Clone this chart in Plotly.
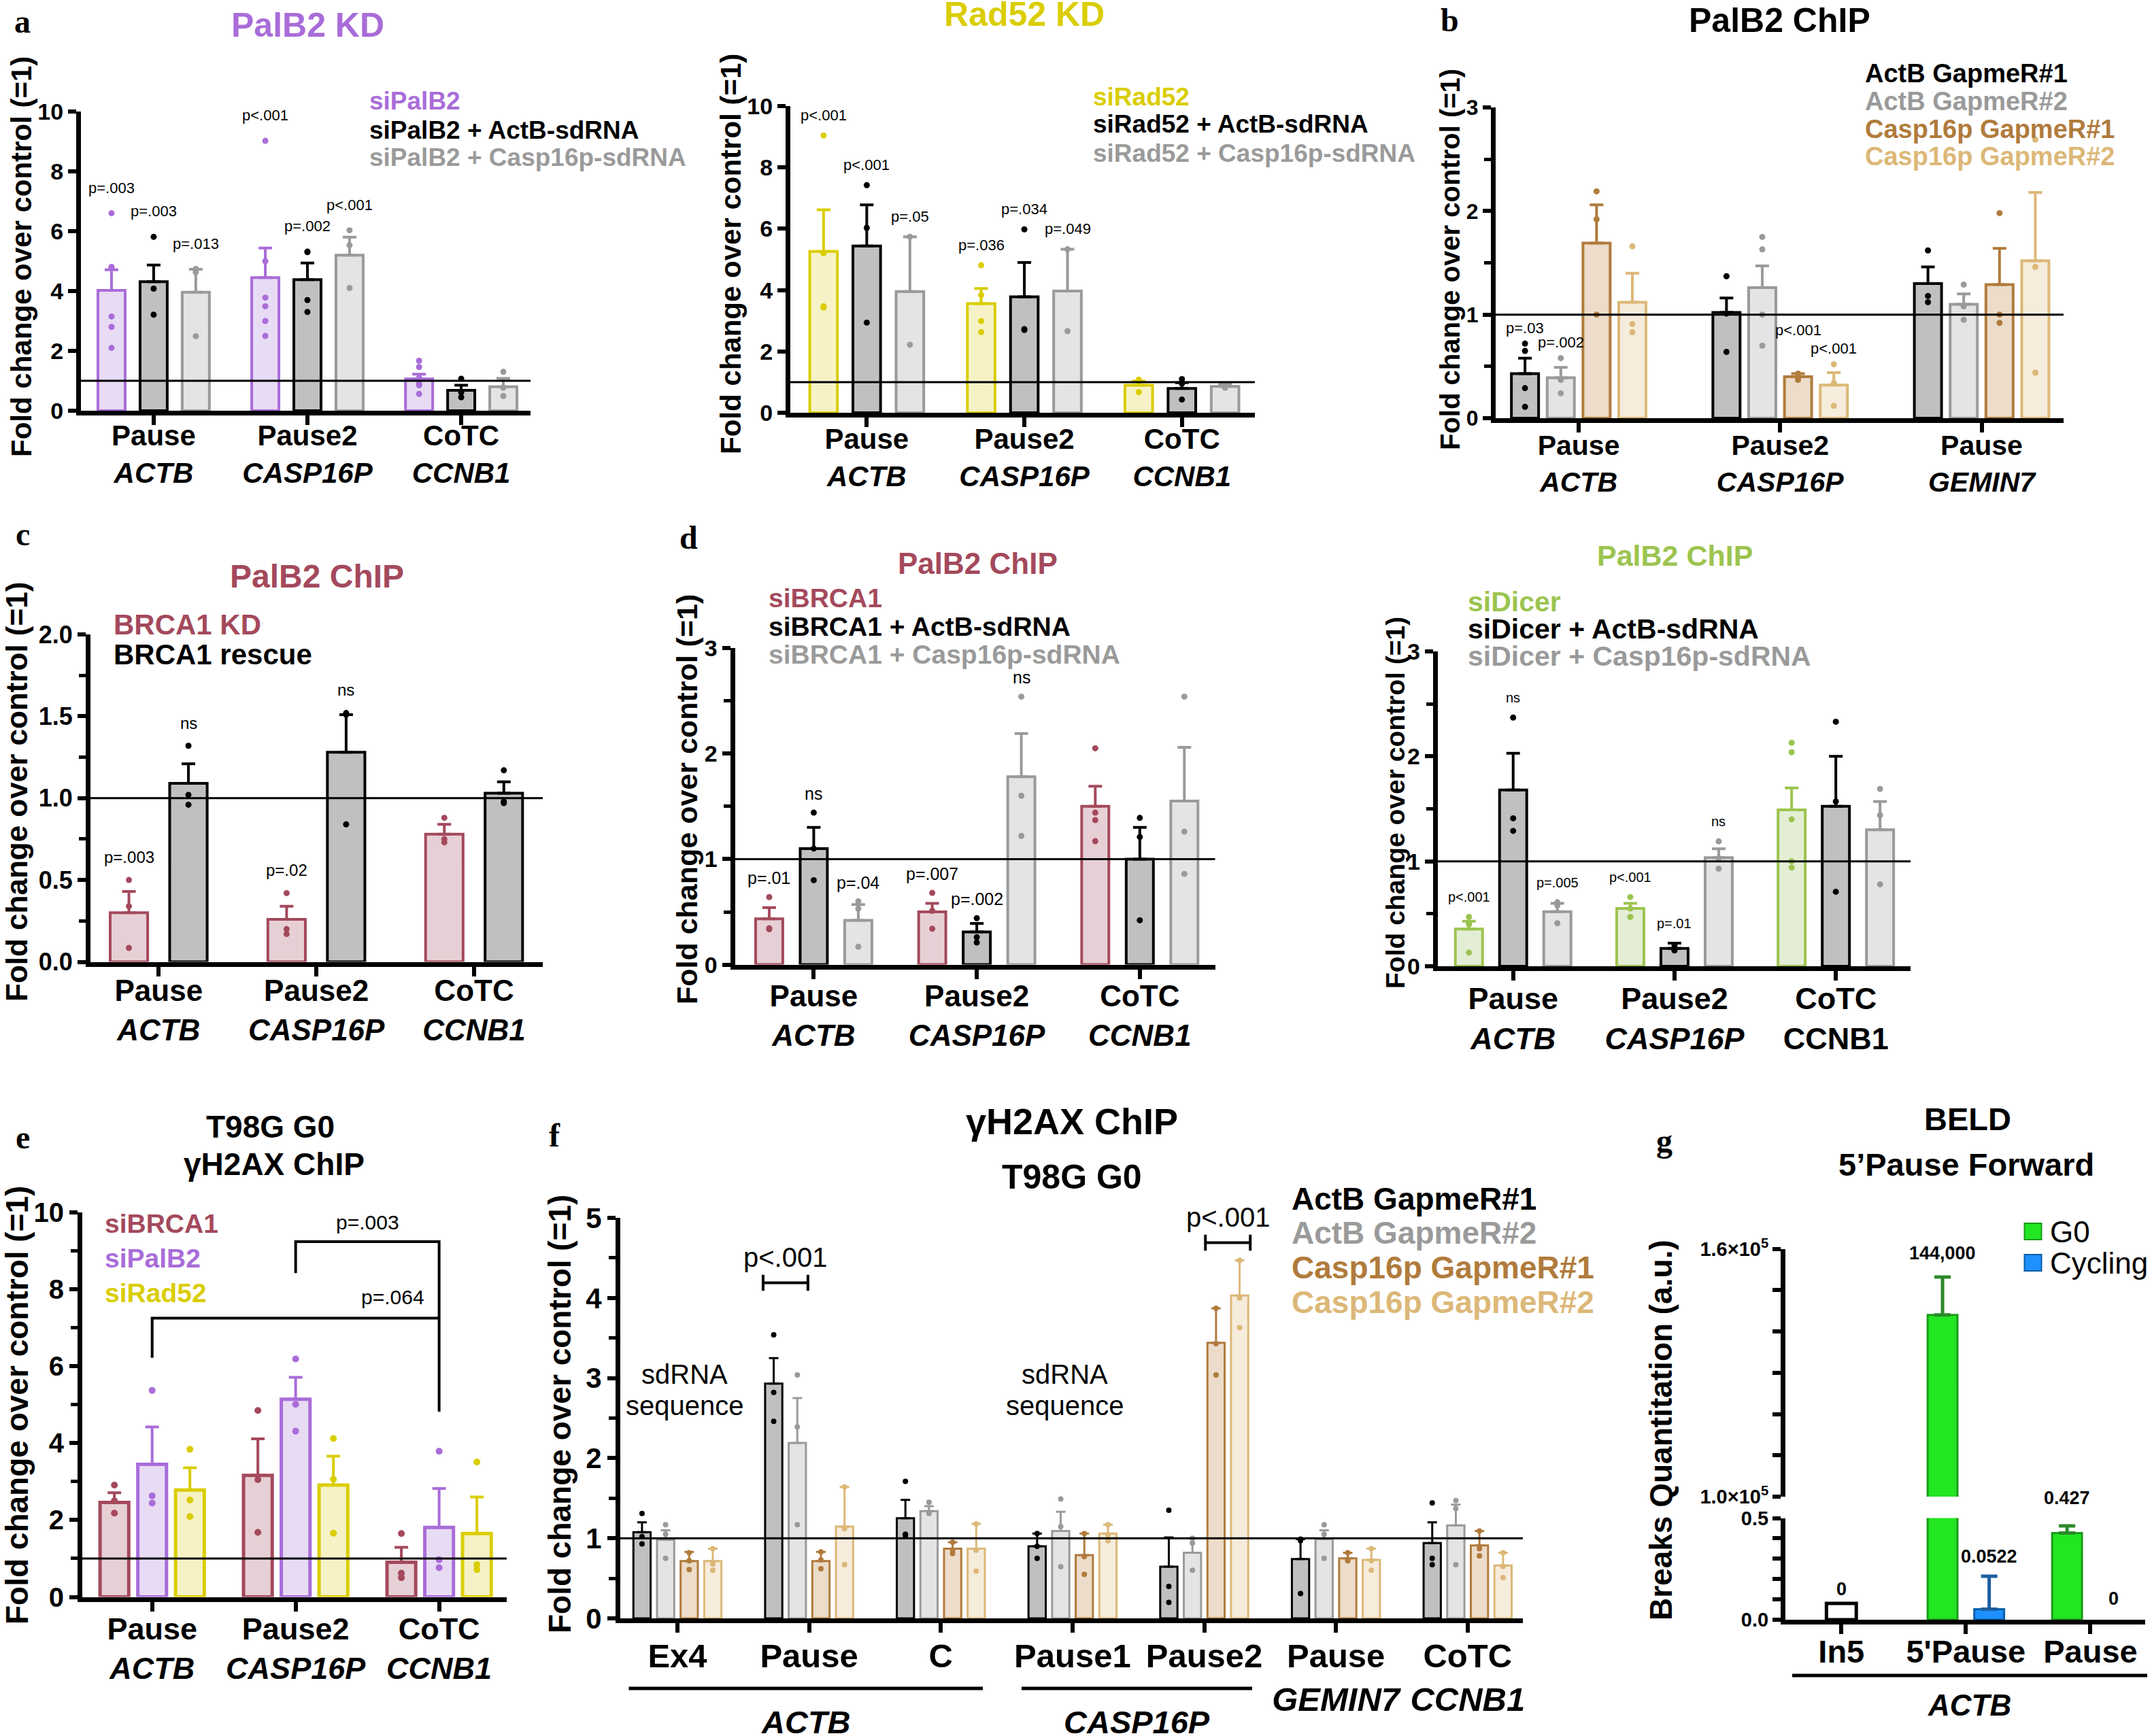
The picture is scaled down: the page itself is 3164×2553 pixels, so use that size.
import plotly.graph_objects as go

# ====================== DATA ======================
GROUPS3 = ["Pause", "Pause2", "CoTC"]
GENES3 = ["ACTB", "CASP16P", "CCNB1"]
GENES_B = ["ACTB", "CASP16P", "GEMIN7"]
GROUPS_B = ["Pause", "Pause2", "Pause"]

# a (left): PalB2 KD
A_SIPALB2_MEAN = [4.02, 4.45, 1.06]
A_SIPALB2_TOP = [4.71, 5.44, 1.22]
A_SIPALB2_PTS = [[6.60, 4.80, 4.80, 3.15, 2.80, 2.10], [9.02, 5.00, 3.78, 3.49, 3.00, 2.50], [1.67, 1.46, 1.10, 0.90, 0.85, 0.56]]
A_SIPALB2_P = ["p=.003", "p<.001", ""]
A_ACTB_MEAN = [4.31, 4.38, 0.68]
A_ACTB_TOP = [4.87, 4.94, 0.85]
A_ACTB_PTS = [[5.81, 4.08, 3.21], [5.32, 5.30, 3.70, 3.30], [1.07, 0.61, 0.45]]
A_ACTB_P = ["p=.003", "p=.002", ""]
A_CASP_MEAN = [3.96, 5.20, 0.80]
A_CASP_TOP = [4.73, 5.80, 1.08]
A_CASP_PTS = [[4.74, 4.63, 2.49], [6.03, 5.53, 4.10], [1.30, 0.77, 0.49]]
A_CASP_P = ["p=.013", "p<.001", ""]

# a (right): Rad52 KD
R_SIRAD_MEAN = [5.26, 3.56, 0.90]
R_SIRAD_TOP = [6.62, 4.05, 1.03]
R_SIRAD_PTS = [[9.04, 5.20, 3.47, 3.43], [4.81, 3.84, 2.99, 2.63], [1.08, 1.03, 0.67]]
R_SIRAD_P = ["p<.001", "p=.036", ""]
R_ACTB_MEAN = [5.44, 3.78, 0.79]
R_ACTB_TOP = [6.78, 4.90, 0.98]
R_ACTB_PTS = [[7.42, 6.03, 2.94], [5.98, 2.73, 2.70], [1.10, 0.95, 0.43]]
R_ACTB_P = ["p<.001", "p=.034", ""]
R_CASP_MEAN = [3.95, 3.97, 0.86]
R_CASP_TOP = [5.74, 5.33, 0.93]
R_CASP_PTS = [[5.74, 2.22], [5.33, 2.66], [0.90, 0.86, 0.82]]
R_CASP_P = ["p=.05", "p=.049", ""]

# b: PalB2 ChIP with GapmeRs
B_ACTB1_MEAN = [0.43, 1.02, 1.30]
B_ACTB1_TOP = [0.58, 1.16, 1.46]
B_ACTB1_PTS = [[0.72, 0.65, 0.29, 0.11], [1.37, 1.01, 0.64], [1.62, 1.18, 1.12]]
B_ACTB1_P = ["p=.03", "", ""]
B_ACTB2_MEAN = [0.39, 1.26, 1.10]
B_ACTB2_TOP = [0.49, 1.47, 1.20]
B_ACTB2_PTS = [[0.58, 0.37, 0.24], [1.75, 1.63, 1.00, 0.70], [1.29, 1.08, 0.95]]
B_ACTB2_P = ["p=.002", "", ""]
B_CASP1_MEAN = [1.69, 0.40, 1.29]
B_CASP1_TOP = [2.06, 0.43, 1.64]
B_CASP1_PTS = [[2.19, 1.92, 1.00], [0.43, 0.39, 0.37], [1.98, 1.00, 0.92]]
B_CASP1_P = ["", "p<.001", ""]
B_CASP2_MEAN = [1.12, 0.32, 1.52]
B_CASP2_TOP = [1.40, 0.44, 2.18]
B_CASP2_PTS = [[1.66, 0.91, 0.83], [0.52, 0.34, 0.12], [2.69, 1.46, 0.44]]
B_CASP2_P = ["", "p<.001", ""]

# c: BRCA1 KD / rescue
C_KD_MEAN = [0.30, 0.26, 0.78]
C_KD_TOP = [0.43, 0.34, 0.84]
C_KD_PTS = [[0.50, 0.34, 0.085], [0.42, 0.20, 0.17], [0.88, 0.75, 0.73]]
C_KD_P = ["p=.003", "p=.02", ""]
C_RESCUE_MEAN = [1.09, 1.28, 1.03]
C_RESCUE_TOP = [1.21, 1.51, 1.10]
C_RESCUE_PTS = [[1.32, 1.02, 0.96], [1.52, 1.51, 0.84], [1.17, 0.97, 0.98]]
C_RESCUE_P = ["ns", "ns", ""]

# d (left): siBRCA1
D_SIBRCA_MEAN = [0.434, 0.50, 1.50]
D_SIBRCA_TOP = [0.54, 0.58, 1.69]
D_SIBRCA_PTS = [[0.64, 0.345, 0.335], [0.68, 0.51, 0.34], [2.05, 1.44, 1.37, 1.17]]
D_SIBRCA_P = ["p=.01", "p=.007", ""]
D_ACTB_MEAN = [1.10, 0.31, 1.00]
D_ACTB_TOP = [1.30, 0.39, 1.30]
D_ACTB_PTS = [[1.44, 1.10, 0.80], [0.44, 0.26, 0.21], [1.39, 1.21, 0.42]]
D_ACTB_P = ["ns", "p=.002", ""]
D_CASP_MEAN = [0.42, 1.78, 1.55]
D_CASP_TOP = [0.57, 2.19, 2.06]
D_CASP_PTS = [[0.60, 0.53, 0.17], [2.54, 1.60, 1.22], [2.54, 1.26, 0.86]]
D_CASP_P = ["p=.04", "ns", ""]

# d (right): siDicer
DR_SIDICER_MEAN = [0.354, 0.55, 1.49]
DR_SIDICER_TOP = [0.43, 0.60, 1.70]
DR_SIDICER_PTS = [[0.47, 0.41, 0.40, 0.13], [0.66, 0.55, 0.47], [2.13, 2.04, 1.40, 1.00, 0.94]]
DR_SIDICER_P = ["p<.001", "p<.001", ""]
DR_ACTB_MEAN = [1.68, 0.17, 1.525]
DR_ACTB_TOP = [2.03, 0.22, 2.00]
DR_ACTB_PTS = [[2.37, 1.41, 1.29], [0.20, 0.155, 0.15], [2.33, 1.57, 0.71]]
DR_ACTB_P = ["ns", "p=.01", ""]
DR_CASP_MEAN = [0.52, 1.035, 1.30]
DR_CASP_TOP = [0.60, 1.12, 1.57]
DR_CASP_PTS = [[0.61, 0.58, 0.41], [1.19, 1.03, 0.93], [1.69, 1.44, 0.78]]
DR_CASP_P = ["p=.005", "ns", ""]

# e: T98G G0 gH2AX ChIP
E_SIBRCA_MEAN = [2.46, 3.16, 0.90]
E_SIBRCA_TOP = [2.71, 4.11, 1.29]
E_SIBRCA_PTS = [[2.91, 2.50, 2.18], [4.85, 3.05, 1.68], [1.65, 0.62, 0.50]]
E_SIPALB2_MEAN = [3.45, 5.14, 1.81]
E_SIPALB2_TOP = [4.42, 5.71, 2.82]
E_SIPALB2_PTS = [[5.37, 2.63, 2.44], [6.19, 5.01, 4.31], [3.79, 0.97, 0.76]]
E_SIRAD_MEAN = [2.78, 2.91, 1.65]
E_SIRAD_TOP = [3.36, 3.66, 2.60]
E_SIRAD_PTS = [[3.84, 2.52, 2.09], [4.12, 3.06, 1.66], [3.51, 0.84, 0.71]]
E_COMPARISONS = [("Pause2", "CoTC", "p=.003"), ("Pause", "CoTC", "p=.064")]

# f: gH2AX ChIP with GapmeRs
F_GROUPS = ["Ex4", "Pause", "C", "Pause1", "Pause2", "Pause", "CoTC"]
F_GENES = ["ACTB", "CASP16P", "GEMIN7", "CCNB1"]
F_ACTB1_MEAN = [1.075, 2.93, 1.25, 0.90, 0.645, 0.74, 0.94]
F_ACTB1_TOP = [1.20, 3.25, 1.48, 1.06, 1.01, 0.99, 1.20]
F_ACTB1_PTS = [[1.31, 1.02, 0.93], [3.54, 2.82, 2.46], [1.71, 1.05, 1.03], [1.06, 0.90, 0.75], [1.35, 0.40, 0.20], [0.99, 0.97, 0.31], [1.44, 0.75, 0.67]]
F_ACTB2_MEAN = [0.98, 2.19, 1.34, 1.09, 0.82, 0.99, 1.16]
F_ACTB2_TOP = [1.10, 2.75, 1.40, 1.33, 1.00, 1.10, 1.42]
F_ACTB2_PTS = [[1.17, 1.05, 0.75], [3.04, 2.39, 1.17], [1.45, 1.32, 1.31], [1.49, 1.145, 0.645], [1.00, 0.94, 0.60], [1.17, 1.05, 0.75], [1.47, 1.37, 0.67]]
F_CASP1_MEAN = [0.715, 0.715, 0.87, 0.79, 3.44, 0.75, 0.91]
F_CASP1_TOP = [0.83, 0.83, 0.95, 1.06, 3.87, 0.82, 1.09]
F_CASP1_PTS = [[0.82, 0.72, 0.61], [0.83, 0.73, 0.62], [0.95, 0.85, 0.81], [1.06, 0.77, 0.55], [3.87, 3.43, 3.04], [0.82, 0.73, 0.72], [1.09, 0.87, 0.78]]
F_CASP2_MEAN = [0.715, 1.145, 0.87, 1.06, 4.03, 0.73, 0.66]
F_CASP2_TOP = [0.87, 1.64, 1.18, 1.17, 4.47, 0.87, 0.82]
F_CASP2_PTS = [[0.87, 0.68, 0.60], [1.64, 1.12, 0.67], [1.18, 0.85, 0.59], [1.17, 1.04, 0.97], [4.47, 4.00, 3.63], [0.87, 0.72, 0.60], [0.82, 0.65, 0.51]]
F_COMPARISONS = [(1, "ActB GapmeR#1", "ActB GapmeR#2", "p<.001"), (4, "Casp16p GapmeR#1", "Casp16p GapmeR#2", "p<.001")]

# g: BELD
G_GROUPS = ["In5", "5'Pause", "Pause"]
G_IN5_VALUE = 0.08
G_G0_VALUES = [144000, 0.427]      # 5'Pause, Pause
G_G0_TOPS = [153200, 0.462]
G_CYC_VALUES = [0.0522, 0.0]
G_CYC_TOPS = [0.214, 0.0]
G_VALUE_LABELS = ["0", "144,000", "0.0522", "0.427", "0"]

# ====================== STYLE ======================
W, H = 3164, 2553
FONT = "Liberation Sans, Arial, Helvetica, sans-serif"
SERIF = "Liberation Serif, Times New Roman, serif"
BLACK = "#000000"
PURPLE, PURPLE_F = "#a96cd9", "#e8dbf4"
YELLOW, YELLOW_F = "#dacd00", "#f6f2c6"
GREY, GREY_F = "#9a9a9a", "#e4e4e4"
DARK_F = "#c0c0c0"
RED, RED_F = "#a4495c", "#e7d0d5"
GREEN, GREEN_F = "#9cc44f", "#e4eed5"
BROWN, BROWN_F = "#b07b3c", "#ecdcc9"
TAN, TAN_F = "#dcb878", "#f6ecdc"

fig = go.Figure()
ANN, SHP, LAY = [], [], {}
_count = [0]


def PX(x):
    return x / W


def PY(y):
    return 1 - y / H


def axes_pair(xl, xr, yb, yt, xrange, yrange, xkw, ykw):
    _count[0] += 1
    n = _count[0]
    sfx = "" if n == 1 else str(n)
    xa, ya = "x" + sfx, "y" + sfx
    base = dict(showgrid=False, zeroline=False, showline=True, linecolor=BLACK, linewidth=7,
                fixedrange=True, automargin=False)
    LAY["xaxis" + sfx] = dict(base, domain=[PX(xl), PX(xr)], range=xrange, anchor=ya, **xkw)
    LAY["yaxis" + sfx] = dict(base, domain=[PY(yb), PY(yt)], range=yrange, anchor=xa, **ykw)
    return xa, ya


def text(x, y, s, size, color=BLACK, bold=False, italic=False, family=FONT, xanchor="center",
         yanchor="middle", angle=0, xref="paper", yref="paper", yshift=0):
    if italic:
        s = f"<i>{s}</i>"
    if bold:
        s = f"<b>{s}</b>"
    ANN.append(dict(x=PX(x) if xref == "paper" else x, y=PY(y) if yref == "paper" else y,
                    xref=xref, yref=yref, text=s, showarrow=False, textangle=angle, yshift=yshift,
                    xanchor=xanchor, yanchor=yanchor, font=dict(family=family, size=size, color=color)))


def lab2(a, b, italic=True):
    b2 = f"<i>{b}</i>" if italic else b
    return f"<b>{a}</b><br><b>{b2}</b>"


def bar_panel(box, ymax, dtick, minor, fmt, xlabels, series, gs, lpad, rpad, bw,
              tick_fs, xlab_fs, p_fs=22, ppad=0.0, lw=4, ms=9, ew=4, cw=10, pdy=None, standoff=0):
    xl, xr, yb, yt = box
    S, G = len(series), len(xlabels)
    centers = [g * gs + (S - 1) / 2 for g in range(G)]
    xkw = dict(ticks="outside", ticklen=14, tickwidth=6, tickcolor=BLACK, tickvals=centers,
               ticktext=xlabels, ticklabelstandoff=standoff,
               tickfont=dict(family=FONT, size=xlab_fs, color=BLACK))
    ykw = dict(ticks="outside", ticklen=12, tickwidth=6, tickcolor=BLACK, tick0=0, dtick=dtick,
               tickformat=fmt, tickfont=dict(family=FONT, size=tick_fs, color=BLACK, weight="bold"))
    if minor:
        ykw["minor"] = dict(dtick=minor, tick0=0, ticks="outside", ticklen=10, tickwidth=5,
                            tickcolor=BLACK, showgrid=False)
    xa, ya = axes_pair(xl, xr, yb, yt, [-lpad, (G - 1) * gs + (S - 1) + rpad], [0, ymax], xkw, ykw)
    for j, s in enumerate(series):
        xs = [g * gs + j for g in range(G)]
        fig.add_trace(go.Bar(
            x=xs, y=s["mean"], width=bw, xaxis=xa, yaxis=ya, showlegend=False,
            marker=dict(color=s["fill"], line=dict(color=s["line"], width=lw)),
            error_y=dict(type="data", symmetric=False, array=[t - m for t, m in zip(s["top"], s["mean"])],
                         arrayminus=[0] * G, color=s["line"], thickness=ew, width=cw)))
        px_, py_ = [], []
        for g in range(G):
            for v in s["pts"][g]:
                px_.append(xs[g])
                py_.append(v)
        fig.add_trace(go.Scatter(x=px_, y=py_, mode="markers", xaxis=xa, yaxis=ya, showlegend=False,
                                 cliponaxis=False, marker=dict(color=s["dot"], size=ms, line=dict(width=0))))
        if "p" in s:
            for g in range(G):
                t = s["p"][g]
                if t:
                    y = max(s["pts"][g] + [s["top"][g]]) + ppad
                    if pdy and (j, g) in pdy:
                        y += pdy[(j, g)]
                    text(xs[g], y, t, p_fs, xref=xa, yref=ya)
    SHP.append(dict(type="line", xref=f"{xa} domain", yref=ya, x0=0, x1=1, y0=1, y1=1,
                    line=dict(color=BLACK, width=3)))
    return xa, ya, centers


def ser(mean, top, pts, line, fill, dot, p=None):
    d = dict(mean=mean, top=top, pts=pts, line=line, fill=fill, dot=dot)
    if p is not None:
        d["p"] = p
    return d


# ---------------- panel a (left) ----------------
bar_panel((119, 780, 604, 164), 10, 2, None, "d",
          [lab2(g, n) for g, n in zip(GROUPS3, GENES3)],
          [ser(A_SIPALB2_MEAN, A_SIPALB2_TOP, A_SIPALB2_PTS, PURPLE, PURPLE_F, PURPLE, A_SIPALB2_P),
           ser(A_ACTB_MEAN, A_ACTB_TOP, A_ACTB_PTS, BLACK, DARK_F, BLACK, A_ACTB_P),
           ser(A_CASP_MEAN, A_CASP_TOP, A_CASP_PTS, GREY, GREY_F, GREY, A_CASP_P)],
          3.65, 0.726, 0.645, 0.645, 34, 42, p_fs=22, ppad=0.85, standoff=-20)
text(452, 37, "PalB2 KD", 50, PURPLE, bold=True)
for y, t, c in zip([149, 191, 231], ["siPalB2", "siPalB2 + ActB-sdRNA", "siPalB2 + Casp16p-sdRNA"], [PURPLE, BLACK, GREY]):
    text(541, y, t, 37, c, bold=True, xanchor="left")
text(31, 378, "Fold change over control (=1)", 42, bold=True, angle=-90)
text(33, 31, "a", 48, bold=True, family=SERIF)

# ---------------- panel a (right) ----------------
bar_panel((1162, 1845, 607, 156), 10, 2, None, "d",
          [lab2(g, n) for g, n in zip(GROUPS3, GENES3)],
          [ser(R_SIRAD_MEAN, R_SIRAD_TOP, R_SIRAD_PTS, YELLOW, YELLOW_F, YELLOW, R_SIRAD_P),
           ser(R_ACTB_MEAN, R_ACTB_TOP, R_ACTB_PTS, BLACK, DARK_F, BLACK, R_ACTB_P),
           ser(R_CASP_MEAN, R_CASP_TOP, R_CASP_PTS, GREY, GREY_F, GREY, R_CASP_P)],
          3.65, 0.77, 0.69, 0.64, 34, 42, p_fs=22, ppad=0.66, standoff=-18)
text(1506, 21, "Rad52 KD", 50, YELLOW, bold=True)
for y, t, c in zip([142, 183, 226], ["siRad52", "siRad52 + ActB-sdRNA", "siRad52 + Casp16p-sdRNA"], [YELLOW, BLACK, GREY]):
    text(1605, y, t, 37, c, bold=True, xanchor="left")
text(1074, 374, "Fold change over control (=1)", 42, bold=True, angle=-90)

# ---------------- panel b ----------------
bar_panel((2199, 3034, 615, 158), 3, 1, 0.5, "d",
          [lab2(g, n) for g, n in zip(GROUPS_B, GENES_B)],
          [ser(B_ACTB1_MEAN, B_ACTB1_TOP, B_ACTB1_PTS, BLACK, DARK_F, BLACK, B_ACTB1_P),
           ser(B_ACTB2_MEAN, B_ACTB2_TOP, B_ACTB2_PTS, GREY, GREY_F, GREY, B_ACTB2_P),
           ser(B_CASP1_MEAN, B_CASP1_TOP, B_CASP1_PTS, BROWN, BROWN_F, BROWN, B_CASP1_P),
           ser(B_CASP2_MEAN, B_CASP2_TOP, B_CASP2_PTS, TAN, TAN_F, TAN, B_CASP2_P)],
          5.63, 0.82, 0.79, 0.76, 32, 41, p_fs=22, ppad=0.15, pdy={(2, 1): 0.27}, standoff=-16)
text(2616, 30, "PalB2 ChIP", 50, bold=True)
for y, t, c in zip([108, 149, 190, 230], ["ActB GapmeR#1", "ActB GapmeR#2", "Casp16p GapmeR#1", "Casp16p GapmeR#2"], [BLACK, GREY, BROWN, TAN]):
    text(2740, y, t, 38, c, bold=True, xanchor="left")
text(2132, 382, "Fold change over control (=1)", 40, bold=True, angle=-90)
text(2131, 30, "b", 48, bold=True, family=SERIF)

# ---------------- panel c ----------------
bar_panel((133, 798, 1414.5, 933), 2, 0.5, 0.25, ".1f",
          [lab2(g, n) for g, n in zip(GROUPS3, GENES3)],
          [ser(C_KD_MEAN, C_KD_TOP, C_KD_PTS, RED, RED_F, RED, C_KD_P),
           ser(C_RESCUE_MEAN, C_RESCUE_TOP, C_RESCUE_PTS, BLACK, DARK_F, BLACK, C_RESCUE_P)],
          2.65, 0.646, 0.654, 0.63, 36, 44, p_fs=24, ppad=0.14, standoff=-16)
text(466, 847, "PalB2 ChIP", 48, RED, bold=True)
for y, t, c in zip([919, 962], ["BRCA1 KD", "BRCA1 rescue"], [RED, BLACK]):
    text(165, y, t, 42, c, bold=True, xanchor="left")
text(25, 1165, "Fold change over control (=1)", 44, bold=True, angle=-90)
text(33, 785, "c", 48, bold=True, family=SERIF)

# ---------------- panel d (left) ----------------
bar_panel((1080.5, 1786.5, 1418.6, 953), 3, 1, 0.5, "d",
          [lab2(g, n) for g, n in zip(GROUPS3, GENES3)],
          [ser(D_SIBRCA_MEAN, D_SIBRCA_TOP, D_SIBRCA_PTS, RED, RED_F, RED, D_SIBRCA_P),
           ser(D_ACTB_MEAN, D_ACTB_TOP, D_ACTB_PTS, BLACK, DARK_F, BLACK, D_ACTB_P),
           ser(D_CASP_MEAN, D_CASP_TOP, D_CASP_PTS, GREY, GREY_F, GREY, D_CASP_P)],
          3.66, 0.77, 0.69, 0.61, 34, 44, p_fs=25, ppad=0.18, standoff=-12)
text(1437.6, 829, "PalB2 ChIP", 44, RED, bold=True)
for y, t, c in zip([880, 921, 962], ["siBRCA1", "siBRCA1 + ActB-sdRNA", "siBRCA1 + Casp16p-sdRNA"], [RED, BLACK, GREY]):
    text(1128, y, t, 39, c, bold=True, xanchor="left")
text(1010, 1176, "Fold change over control (=1)", 43, bold=True, angle=-90)
text(1013, 790, "d", 48, bold=True, family=SERIF)

# ---------------- panel d (right) ----------------
bar_panel((2113.6, 2809, 1421, 958), 3, 1, 0.5, "d",
          [lab2("Pause", "ACTB"), lab2("Pause2", "CASP16P"), lab2("CoTC", "CCNB1", italic=False)],
          [ser(DR_SIDICER_MEAN, DR_SIDICER_TOP, DR_SIDICER_PTS, GREEN, GREEN_F, GREEN, DR_SIDICER_P),
           ser(DR_ACTB_MEAN, DR_ACTB_TOP, DR_ACTB_PTS, BLACK, DARK_F, BLACK, DR_ACTB_P),
           ser(DR_CASP_MEAN, DR_CASP_TOP, DR_CASP_PTS, GREY, GREY_F, GREY, DR_CASP_P)],
          3.65, 0.71, 0.69, 0.615, 34, 45, p_fs=20, ppad=0.19, standoff=-12)
text(2462.7, 816.5, "PalB2 ChIP", 43, GREEN, bold=True)
for y, t, c in zip([885, 925, 965], ["siDicer", "siDicer + ActB-sdRNA", "siDicer + Casp16p-sdRNA"], [GREEN, BLACK, GREY]):
    text(2156, y, t, 41, c, bold=True, xanchor="left")
text(2051, 1181, "Fold change over control (=1)", 39, bold=True, angle=-90)

# ---------------- panel e ----------------
xa_e, ya_e, cen_e = bar_panel((121, 745, 2348.5, 1783), 10, 2, 1, "d",
                              [lab2(g, n) for g, n in zip(GROUPS3, GENES3)],
                              [ser(E_SIBRCA_MEAN, E_SIBRCA_TOP, E_SIBRCA_PTS, RED, RED_F, RED),
                               ser(E_SIPALB2_MEAN, E_SIPALB2_TOP, E_SIPALB2_PTS, PURPLE, PURPLE_F, PURPLE),
                               ser(E_SIRAD_MEAN, E_SIRAD_TOP, E_SIRAD_PTS, YELLOW, YELLOW_F, YELLOW)],
                              3.8, 0.85, 0.79, 0.76, 40, 45, lw=5, ms=10, standoff=-13)
text(397.5, 1657, "T98G G0", 46, bold=True)
text(403, 1712, "γH2AX ChIP", 46, bold=True)
for y, t, c in zip([1799, 1850, 1902], ["siBRCA1", "siPalB2", "siRad52"], [RED, PURPLE, YELLOW]):
    text(152, y, t, 39, c, bold=True, xanchor="left")
text(25, 2067, "Fold change over control (=1)", 46, bold=True, angle=-90)
text(33, 1672, "e", 48, bold=True, family=SERIF)
# comparison brackets (between siPalB2 bars)
_e_pos = {g: cen_e[i] for i, g in enumerate(GROUPS3)}
_br_geom = [(8.42, 9.24, 4.82, 9.74, 0.0), (6.22, 7.25, None, 7.80, -1.22)]
for (ga, gb, lab), (yl, ytop, yr, ylab, dx) in zip(E_COMPARISONS, _br_geom):
    x0, x1 = _e_pos[ga], _e_pos[gb]
    path = f"M {x0},{yl} L {x0},{ytop} L {x1},{ytop}"
    if yr is not None:
        path += f" L {x1},{yr}"
    SHP.append(dict(type="path", path=path, xref=xa_e, yref=ya_e, line=dict(color=BLACK, width=4)))
    xm = (x0 + x1) / 2 if dx == 0 else x1 + dx
    text(xm, ylab, lab, 30, xref=xa_e, yref=ya_e)

# ---------------- panel f ----------------
f_labels = ["<b>Ex4</b>", "<b>Pause</b>", "<b>C</b>", "<b>Pause1</b>", "<b>Pause2</b>",
            lab2("Pause", F_GENES[2]), lab2("CoTC", F_GENES[3])]
F_SERIES_NAMES = ["ActB GapmeR#1", "ActB GapmeR#2", "Casp16p GapmeR#1", "Casp16p GapmeR#2"]
_f_gs = 5.58
xa_f, ya_f, cen_f = bar_panel((912, 2239, 2380, 1791), 5, 1, 0.5, "d", f_labels,
                              [ser(F_ACTB1_MEAN, F_ACTB1_TOP, F_ACTB1_PTS, BLACK, DARK_F, BLACK),
                               ser(F_ACTB2_MEAN, F_ACTB2_TOP, F_ACTB2_PTS, GREY, GREY_F, GREY),
                               ser(F_CASP1_MEAN, F_CASP1_TOP, F_CASP1_PTS, BROWN, BROWN_F, BROWN),
                               ser(F_CASP2_MEAN, F_CASP2_TOP, F_CASP2_PTS, TAN, TAN_F, TAN)],
                              _f_gs, 0.92, 0.84, 0.73, 42, 49, lw=3, ms=8, ew=3, cw=7, standoff=-8)
text(1575.5, 1649, "γH2AX ChIP", 54, bold=True)
text(1575.5, 1731, "T98G G0", 50, bold=True)
for y, t, c in zip([1763, 1813, 1864, 1915], F_SERIES_NAMES, [BLACK, GREY, BROWN, TAN]):
    text(1897, y, t, 46, c, bold=True, xanchor="left")
text(823, 2080, "Fold change over control (=1)", 46, bold=True, angle=-90)
text(815, 1669, "f", 48, bold=True, family=SERIF)
for (gi, sa, sb, lab), hy in zip(F_COMPARISONS, [4.19, 4.69]):
    a = gi * _f_gs + F_SERIES_NAMES.index(sa) - 0.45
    b = gi * _f_gs + F_SERIES_NAMES.index(sb) + 0.45
    SHP.append(dict(type="path", xref=xa_f, yref=ya_f, line=dict(color=BLACK, width=4),
                    path=f"M {a},{hy-0.1} L {a},{hy+0.1} M {a},{hy} L {b},{hy} M {b},{hy-0.1} L {b},{hy+0.1}"))
    text((a + b) / 2, hy + 0.1, lab, 40, xref=xa_f, yref=ya_f, yanchor="bottom", yshift=2)
for xc, y in [(1006, 2021), (1565, 2021)]:
    text(xc, y, "sdRNA", 40)
    text(xc, y + 46, "sequence", 40)
for x0, x1, lab in [(924.5, 1445, F_GENES[0]), (1502, 1841, F_GENES[1])]:
    SHP.append(dict(type="line", xref="paper", yref="paper", x0=PX(x0), x1=PX(x1), y0=PY(2483), y1=PY(2483),
                    line=dict(color=BLACK, width=5)))
    text((x0 + x1) / 2, 2532, lab, 47, bold=True, italic=True)

# ---------------- panel g (broken axis) ----------------
G_GS = 2.67
g_centers = [g * G_GS + 0.5 for g in range(3)]
g_xrange = [-0.7, 2 * G_GS + 0.5 + 1.175]
tick_kw = dict(ticks="outside", ticklen=12, tickwidth=6, tickcolor=BLACK,
               tickfont=dict(family=FONT, size=29, color=BLACK, weight="bold"))
lo_x, lo_y = axes_pair(2625, 3154, 2382, 2232.6, g_xrange, [0, 0.5],
                       dict(ticks="outside", ticklen=14, tickwidth=6, tickcolor=BLACK, tickvals=g_centers,
                            ticktext=[f"<b>{g}</b>" for g in G_GROUPS], ticklabelstandoff=-14,
                            tickfont=dict(family=FONT, size=47, color=BLACK)),
                       dict(tick_kw, tickvals=[0, 0.5], ticktext=["0.0", "0.5"],
                            minor=dict(tickmode="linear", tick0=0, dtick=0.1, ticks="outside", ticklen=12,
                                       tickwidth=6, tickcolor=BLACK, showgrid=False)))
up_x, up_y = axes_pair(2625, 3154, 2201, 1836.7, g_xrange, [100000, 160000],
                       dict(showline=False, showticklabels=False, ticks=""),
                       dict(tick_kw, tickvals=[100000, 160000],
                            ticktext=["1.0×10<sup>5</sup>", "1.6×10<sup>5</sup>"],
                            minor=dict(tickmode="linear", tick0=0, dtick=10000, ticks="outside", ticklen=12,
                                       tickwidth=6, tickcolor=BLACK, showgrid=False)))
GG, GG_L, GG_E = "#22e622", "#1a9a1a", "#2a8a2a"
BB, BB_L, BB_E = "#1e90ff", "#0b5ea8", "#1d5fa0"
g0_x = [c - 0.5 for c in g_centers[1:]]
cy_x = [c + 0.5 for c in g_centers[1:]]
bw_g = 0.64
fig.add_trace(go.Bar(x=[g_centers[0]], y=[G_IN5_VALUE], width=bw_g, xaxis=lo_x, yaxis=lo_y, showlegend=False,
                     marker=dict(color="white", line=dict(color=BLACK, width=5))))
fig.add_trace(go.Bar(x=[g0_x[0]], y=[G_G0_VALUES[0]], width=bw_g, xaxis=lo_x, yaxis=lo_y, showlegend=False,
                     marker=dict(color=GG, line=dict(color=GG_L, width=3))))
fig.add_trace(go.Bar(x=[g0_x[1]], y=[G_G0_VALUES[1]], width=bw_g, xaxis=lo_x, yaxis=lo_y, showlegend=False,
                     marker=dict(color=GG, line=dict(color=GG_L, width=3)),
                     error_y=dict(type="data", symmetric=False, array=[G_G0_TOPS[1] - G_G0_VALUES[1]],
                                  arrayminus=[0], color=GG_E, thickness=5, width=12)))
fig.add_trace(go.Bar(x=[cy_x[0]], y=[G_CYC_VALUES[0]], width=bw_g, xaxis=lo_x, yaxis=lo_y, showlegend=False,
                     marker=dict(color=BB, line=dict(color=BB_L, width=3)),
                     error_y=dict(type="data", symmetric=False, array=[G_CYC_TOPS[0] - G_CYC_VALUES[0]],
                                  arrayminus=[0], color=BB_E, thickness=5, width=12)))
fig.add_trace(go.Bar(x=[g0_x[0]], y=[G_G0_VALUES[0]], width=bw_g, xaxis=up_x, yaxis=up_y, showlegend=False,
                     marker=dict(color=GG, line=dict(color=GG_L, width=3)),
                     error_y=dict(type="data", symmetric=False, array=[G_G0_TOPS[0] - G_G0_VALUES[0]],
                                  arrayminus=[0], color=GG_E, thickness=5, width=12)))
text(g_centers[0], G_IN5_VALUE, G_VALUE_LABELS[0], 27, bold=True, xref=lo_x, yref=lo_y, yanchor="bottom", yshift=4)
text(g0_x[0], G_G0_TOPS[0], G_VALUE_LABELS[1], 27, bold=True, xref=up_x, yref=up_y, yanchor="bottom", yshift=18)
text(cy_x[0], G_CYC_TOPS[0], G_VALUE_LABELS[2], 27, bold=True, xref=lo_x, yref=lo_y, yanchor="bottom", yshift=12)
text(g0_x[1], G_G0_TOPS[1], G_VALUE_LABELS[3], 27, bold=True, xref=lo_x, yref=lo_y, yanchor="bottom", yshift=24)
text(cy_x[1], G_CYC_VALUES[1], G_VALUE_LABELS[4], 27, bold=True, xref=lo_x, yref=lo_y, yanchor="bottom", yshift=14)
text(2892.5, 1645.5, "BELD", 47, bold=True)
text(2891, 1712, "5’Pause Forward", 47, bold=True)
for (y0, y1), col, lcol, lab in [((1799, 1823), GG, GG_L, "G0"), ((1845, 1869), BB, BB_L, "Cycling")]:
    SHP.append(dict(type="rect", xref="paper", yref="paper", x0=PX(2976.5), x1=PX(3001.5), y0=PY(y1), y1=PY(y0),
                    fillcolor=col, line=dict(color=lcol, width=2)))
    text(3012, (y0 + y1) / 2, lab, 44, xanchor="left")
text(2442, 2103, "Breaks Quantitation (a.u.)", 46, bold=True, angle=-90)
text(2447, 1677, "g", 48, bold=True, family=SERIF)
SHP.append(dict(type="line", xref="paper", yref="paper", x0=PX(2635), x1=PX(3157), y0=PY(2464), y1=PY(2464),
                line=dict(color=BLACK, width=5)))
text(2895, 2507, "ACTB", 44, bold=True, italic=True)

fig.update_layout(width=W, height=H, margin=dict(l=0, r=0, t=0, b=0, pad=0, autoexpand=False), autosize=False,
                  paper_bgcolor="white", plot_bgcolor="white", barmode="overlay",
                  showlegend=False, annotations=ANN, shapes=SHP, **LAY)
fig.write_html("out.html", config={"displayModeBar": False},
               post_script="document.body.style.margin='0';")
